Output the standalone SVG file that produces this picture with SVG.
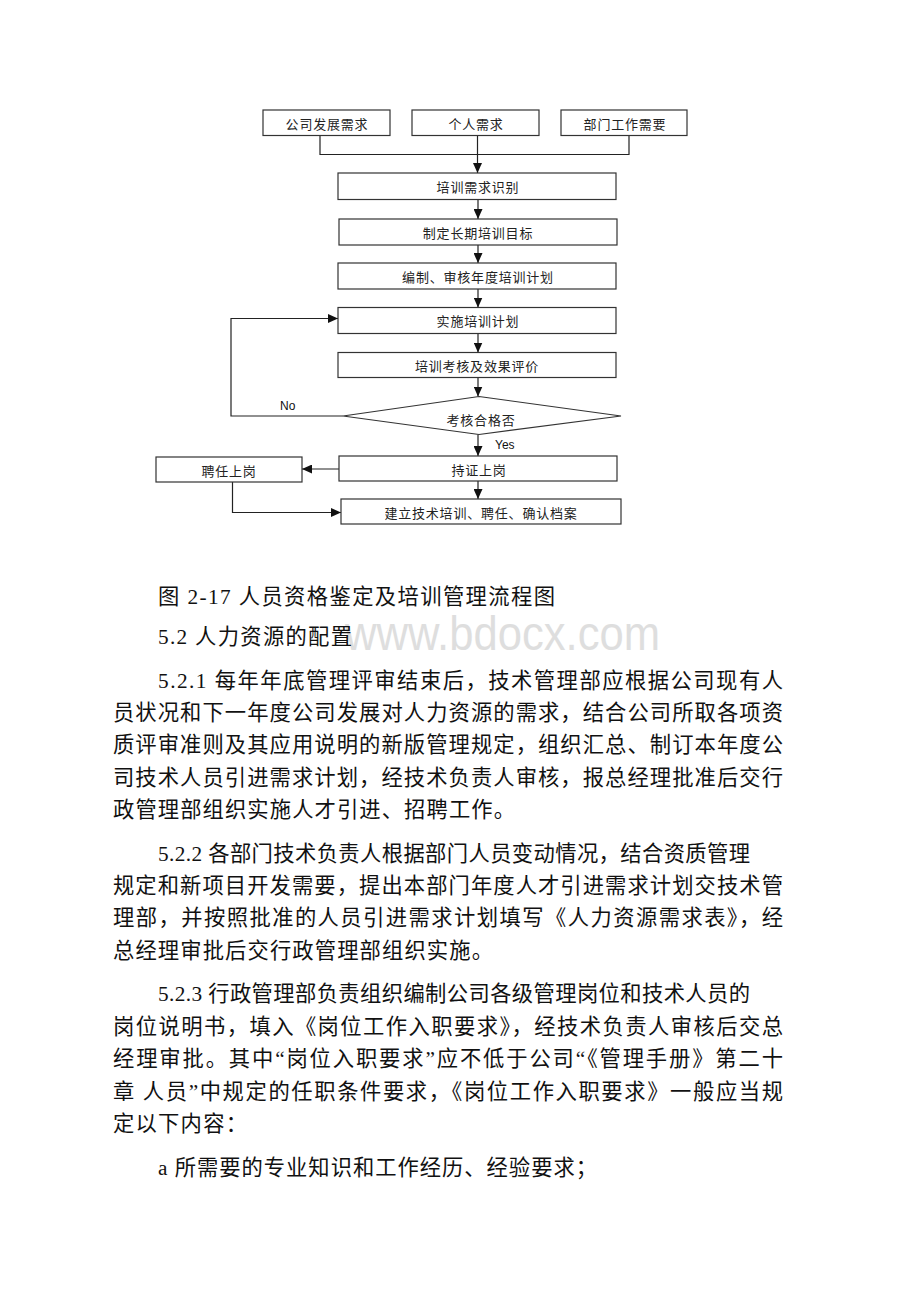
<svg xmlns="http://www.w3.org/2000/svg" width="920" height="1302" viewBox="0 0 920 1302">
<style>
.box{fill:#fff;stroke:#333;stroke-width:1.2}
.fc{font-family:"Noto Sans CJK SC",sans-serif;font-size:13px;fill:#222;text-anchor:middle;letter-spacing:0.8px}
.en{font-family:"Liberation Sans",Arial,sans-serif;font-size:12px;fill:#111}
.body{font-family:"Liberation Serif","Noto Sans CJK SC",serif;font-size:21.3px;fill:#111}
.wm{font-family:"Liberation Sans",Arial,sans-serif;font-size:48px;fill:#dedede}
.conn{fill:none;stroke:#222;stroke-width:1.2}
</style>
<defs>
<marker id="arr" markerWidth="10" markerHeight="9" refX="10" refY="4.5" orient="auto" markerUnits="userSpaceOnUse"><path d="M0,0 L10,4.5 L0,9 z" fill="#111"/></marker>
</defs>
<rect width="920" height="1302" fill="#fff"/>

<g id="connectors">
<path class="conn" d="M320,136 V154.5 H629 V135.5"/>
<path class="conn" d="M477.5,135.5 V173" marker-end="url(#arr)"/>
<path class="conn" d="M478,199.5 V219" marker-end="url(#arr)"/>
<path class="conn" d="M478,245 V263" marker-end="url(#arr)"/>
<path class="conn" d="M478,289 V307.5" marker-end="url(#arr)"/>
<path class="conn" d="M478,333.5 V352.5" marker-end="url(#arr)"/>
<path class="conn" d="M478,377.5 V396.5" marker-end="url(#arr)"/>
<path class="conn" d="M478,434.5 V456" marker-end="url(#arr)"/>
<path class="conn" d="M478,481 V499" marker-end="url(#arr)"/>
<path class="conn" d="M339,469 H302" marker-end="url(#arr)"/>
<path class="conn" d="M232.5,482 V512.5 H341" marker-end="url(#arr)"/>
<path class="conn" d="M343,416 H231 V318.5 H338" marker-end="url(#arr)"/>
<text class="en" x="280" y="409.5">No</text>
<text class="en" x="495" y="448.5" font-size="11.5">Yes</text>
</g>

<g id="n_company"><rect class="box" x="263" y="110" width="127" height="25.5"/><text class="fc" x="327" y="128.5">公司发展需求</text></g>
<g id="n_personal"><rect class="box" x="412" y="110" width="127" height="25.5"/><text class="fc" x="476" y="128.5">个人需求</text></g>
<g id="n_dept"><rect class="box" x="561" y="110" width="126" height="25.5"/><text class="fc" x="625" y="128.5">部门工作需要</text></g>
<g id="n_identify"><rect class="box" x="338" y="173" width="278" height="26.5"/><text class="fc" x="478" y="192">培训需求识别</text></g>
<g id="n_goal"><rect class="box" x="339" y="219" width="278" height="26"/><text class="fc" x="478" y="237.5">制定长期培训目标</text></g>
<g id="n_plan"><rect class="box" x="338" y="263" width="278" height="26"/><text class="fc" x="478" y="282">编制、审核年度培训计划</text></g>
<g id="n_impl"><rect class="box" x="338" y="307.5" width="278" height="26"/><text class="fc" x="478" y="326">实施培训计划</text></g>
<g id="n_eval"><rect class="box" x="338" y="352.5" width="278" height="25"/><text class="fc" x="477" y="370.5">培训考核及效果评价</text></g>
<g id="n_check"><polygon class="box" points="479,396.5 621,416 479,434.5 343,416"/><text class="fc" x="481" y="424.5">考核合格否</text></g>
<g id="n_cert"><rect class="box" x="339" y="456" width="278" height="25"/><text class="fc" x="479" y="475">持证上岗</text></g>
<g id="n_hire"><rect class="box" x="156" y="457" width="146" height="25"/><text class="fc" x="229" y="475.5">聘任上岗</text></g>
<g id="n_archive"><rect class="box" x="341" y="499" width="280" height="25"/><text class="fc" x="481" y="518">建立技术培训、聘任、确认档案</text></g>

<g id="body">
<text class="wm" x="345" y="650" textLength="315" lengthAdjust="spacingAndGlyphs">www.bdocx.com</text>
<text class="body" x="158" y="603.5" textLength="397" lengthAdjust="spacing">图 2-17 人员资格鉴定及培训管理流程图</text>
<text class="body" x="158" y="643.5" textLength="194" lengthAdjust="spacing">5.2 人力资源的配置</text>
<text class="body" x="158" y="688" textLength="625" lengthAdjust="spacing">5.2.1 每年年底管理评审结束后，技术管理部应根据公司现有人</text>
<text class="body" x="113" y="720" textLength="670" lengthAdjust="spacing">员状况和下一年度公司发展对人力资源的需求，结合公司所取各项资</text>
<text class="body" x="113" y="752" textLength="670" lengthAdjust="spacing">质评审准则及其应用说明的新版管理规定，组织汇总、制订本年度公</text>
<text class="body" x="113" y="785" textLength="670" lengthAdjust="spacing">司技术人员引进需求计划，经技术负责人审核，报总经理批准后交行</text>
<text class="body" x="113" y="817" textLength="402" lengthAdjust="spacing">政管理部组织实施人才引进、招聘工作。</text>
<text class="body" x="158" y="861" textLength="592" lengthAdjust="spacing">5.2.2 各部门技术负责人根据部门人员变动情况，结合资质管理</text>
<text class="body" x="113" y="893" textLength="670" lengthAdjust="spacing">规定和新项目开发需要，提出本部门年度人才引进需求计划交技术管</text>
<text class="body" x="113" y="925" textLength="670" lengthAdjust="spacing">理部，并按照批准的人员引进需求计划填写《人力资源需求表》，经</text>
<text class="body" x="113" y="958" textLength="380" lengthAdjust="spacing">总经理审批后交行政管理部组织实施。</text>
<text class="body" x="158" y="1001" textLength="592" lengthAdjust="spacing">5.2.3 行政管理部负责组织编制公司各级管理岗位和技术人员的</text>
<text class="body" x="113" y="1034" textLength="670" lengthAdjust="spacing">岗位说明书，填入《岗位工作入职要求》，经技术负责人审核后交总</text>
<text class="body" x="113" y="1066" textLength="670" lengthAdjust="spacing">经理审批。其中“岗位入职要求”应不低于公司“《管理手册》第二十</text>
<text class="body" x="113" y="1099" textLength="670" lengthAdjust="spacing">章 人员”中规定的任职条件要求，《岗位工作入职要求》一般应当规</text>
<text class="body" x="113" y="1131" textLength="134" lengthAdjust="spacing">定以下内容：</text>
<text class="body" x="158" y="1175" textLength="439" lengthAdjust="spacing">a 所需要的专业知识和工作经历、经验要求；</text>
</g>
</svg>
